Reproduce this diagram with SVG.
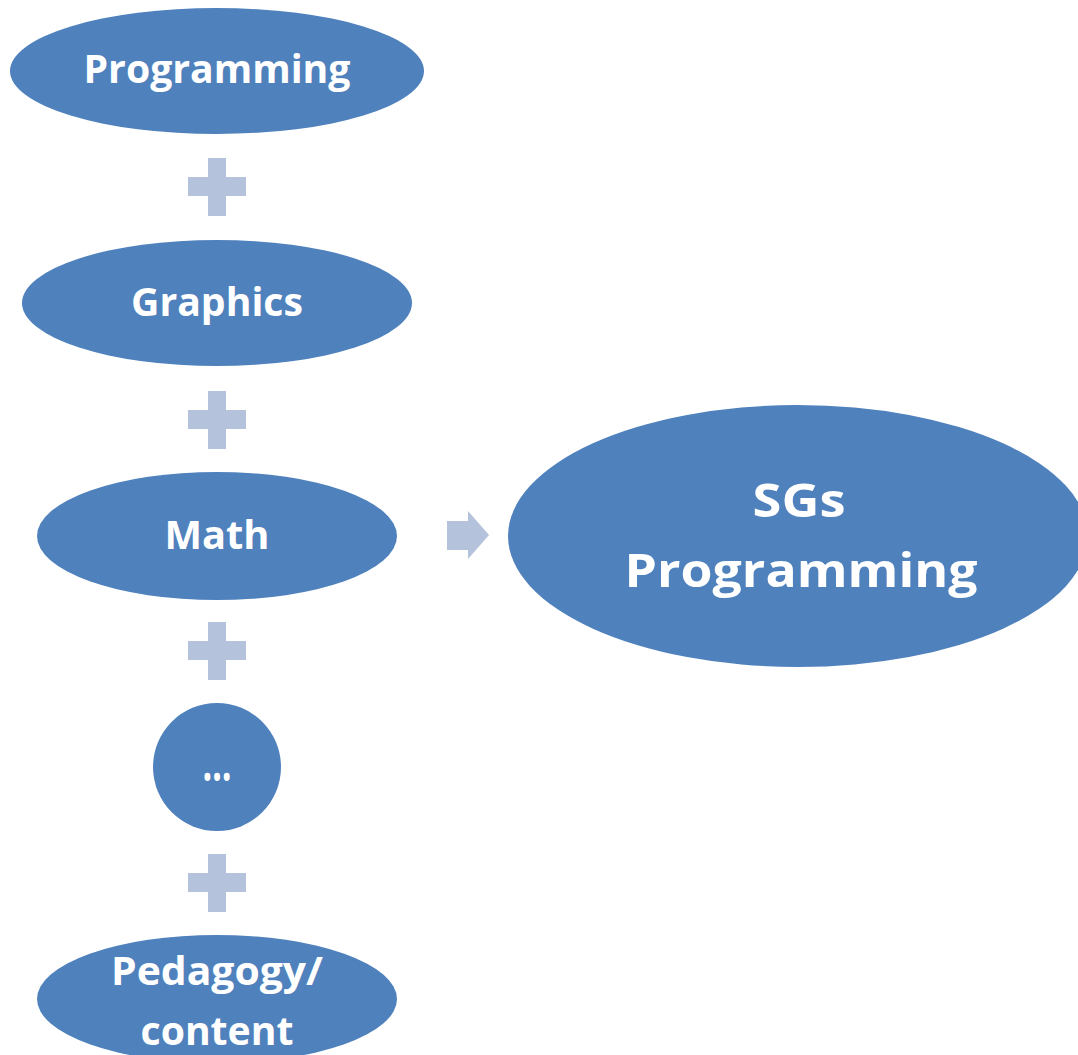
<svg xmlns="http://www.w3.org/2000/svg" width="1078" height="1055" viewBox="0 0 1078 1055">
  <style>
    .node { fill: #4F81BD; }
    .op { fill: #B4C2DC; }
    .label { fill: #FFFFFF; font-family: "Open Sans", "Liberation Sans", sans-serif; font-weight: bold; font-size: 39px; text-anchor: middle; }
    .big { font-size: 47px; }
    .dots { font-size: 50px; }
  </style>
  <defs>
    <path id="plus" d="M-9,-29 H9 V-10 H29 V9 H9 V29 H-9 V9 H-29 V-10 H-9 Z"/>
  </defs>
  <rect width="1078" height="1055" fill="#FFFFFF"/>

  <g id="connectors">
    <use href="#plus" class="op" x="217" y="187"/>
    <use href="#plus" class="op" x="217" y="420"/>
    <use href="#plus" class="op" x="217" y="651"/>
    <use href="#plus" class="op" x="217" y="883"/>
    <path class="op" d="M447,521 H468 V511 L489,535 L468,559 V550 H447 Z"/>
  </g>

  <g id="programming">
    <ellipse class="node" cx="217" cy="71" rx="207" ry="63"/>
    <text class="label" x="217" y="83" textLength="267" lengthAdjust="spacingAndGlyphs">Programming</text>
  </g>
  <g id="graphics">
    <ellipse class="node" cx="217" cy="303" rx="195" ry="63"/>
    <text class="label" x="217" y="316" textLength="172" lengthAdjust="spacingAndGlyphs">Graphics</text>
  </g>
  <g id="math">
    <ellipse class="node" cx="217" cy="536" rx="180" ry="64"/>
    <text class="label" x="217" y="549" textLength="105" lengthAdjust="spacingAndGlyphs">Math</text>
  </g>
  <g id="more">
    <circle class="node" cx="217" cy="767" r="64"/>
    <text class="label dots" x="217" y="781" textLength="29" lengthAdjust="spacingAndGlyphs">…</text>
  </g>
  <g id="pedagogy">
    <ellipse class="node" cx="217" cy="999" rx="180" ry="64"/>
    <text class="label" x="217" y="985" textLength="212" lengthAdjust="spacingAndGlyphs">Pedagogy/</text>
    <text class="label" x="217" y="1045" textLength="153" lengthAdjust="spacingAndGlyphs">content</text>
  </g>
  <g id="sgs-programming">
    <ellipse class="node" cx="798" cy="536" rx="290" ry="131"/>
    <text class="label big" x="799" y="517" textLength="93" lengthAdjust="spacingAndGlyphs">SGs</text>
    <text class="label big" x="801" y="587" textLength="353" lengthAdjust="spacingAndGlyphs">Programming</text>
  </g>
</svg>
